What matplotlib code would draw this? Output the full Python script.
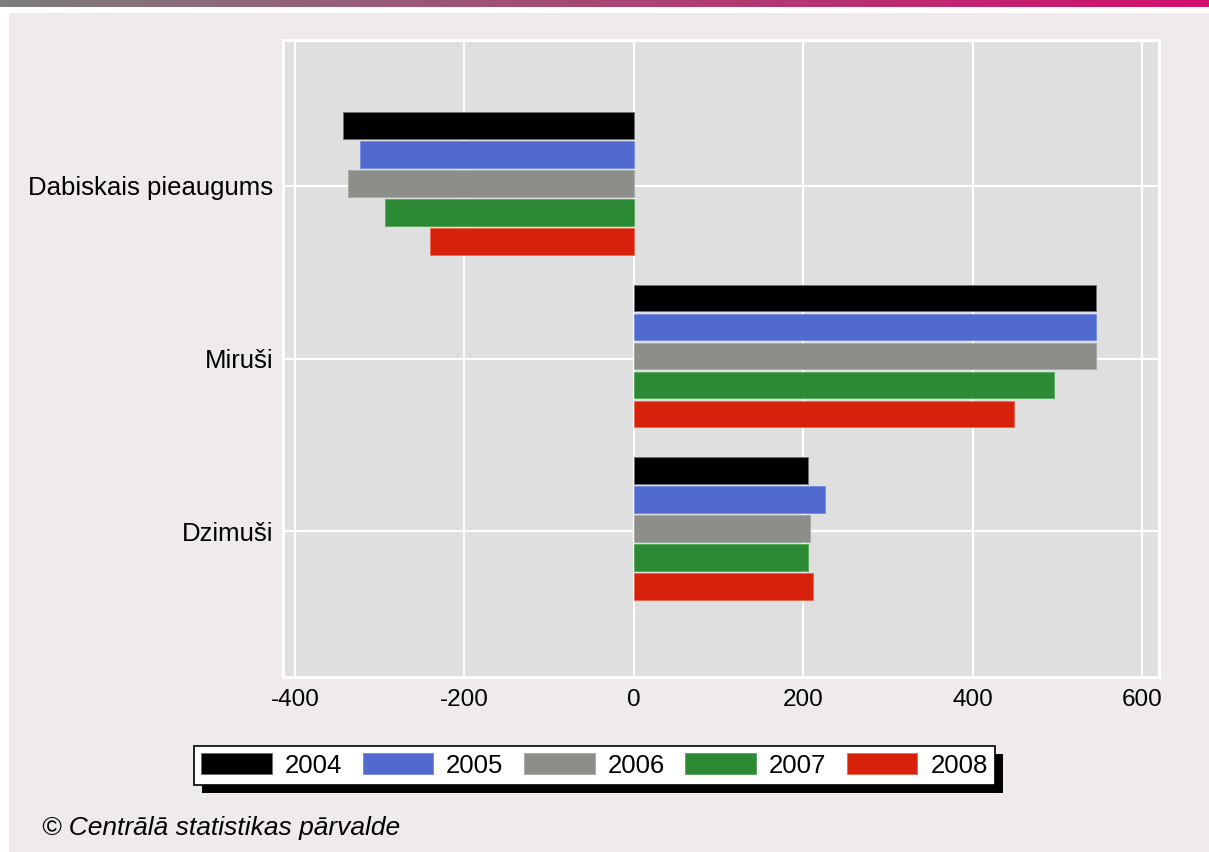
# horizontal grouped bars: natural growth, deaths and births per year
import matplotlib.pyplot as plt
from matplotlib.patches import Rectangle
import numpy as np

categories = ["Dzimuši", "Miruši", "Dabiskais pieaugums"]
years = ["2004", "2005", "2006", "2007", "2008"]

dzimusi = [205, 225, 208, 205, 211]
mirusi = [545, 545, 545, 496, 448]
pieaugums = [-343, -323, -337, -294, -240]

colors = ["#000000", "#506ad0", "#8c8e8a", "#2b8a33", "#d8210a"]
edges = ["#707070", "#7a8ee0", "#a8aaa6", "#5aa860", "#e86a55"]
xticks = [-400, -200, 0, 200, 400, 600]

plt.rcParams['font.family'] = ['Liberation Sans', 'DejaVu Sans']

fig = plt.figure(figsize=(12.09, 8.52), dpi=100)
fig.patch.set_facecolor("white")

# grey panel behind everything
fig.patches.append(Rectangle((9 / 1209, 0), 1, 1 - 13 / 852, transform=fig.transFigure,
                             facecolor="#efeaee", edgecolor="none", zorder=-10))

# gradient strip on top
top = fig.add_axes([0, 1 - 7 / 852, 1, 7 / 852])
grad = np.linspace(0, 1, 256)
c0 = np.array([0x7d, 0x7d, 0x7d]) / 255
c1 = np.array([0xd2, 0x10, 0x6c]) / 255
img = c0[None, :] + (c1 - c0)[None, :] * grad[:, None]
top.imshow(img[None, :, :], aspect="auto")
top.axis("off")

ax = fig.add_axes([283 / 1209, 1 - 677 / 852, 876 / 1209, 637 / 852])
ax.set_facecolor("#dfdfdf")

values = np.array([dzimusi, mirusi, pieaugums])  # rows follow categories
ypos = np.arange(len(categories))
step = 0.168
height = 0.154
for i, year in enumerate(years):
    ax.barh(ypos + 0.014 + (2 - i) * step, values[:, i], height=height,
            color=colors[i], edgecolor=edges[i], linewidth=0.7,
            label=year, zorder=3)

ax.set_xlim(-414, 619.6)
ax.set_ylim(-0.846, 2.846)
ax.set_xticks(xticks)
ax.set_xticklabels([str(t) for t in xticks])
ax.set_yticks(ypos)
ax.set_yticklabels(categories)
ax.tick_params(length=0, labelsize=18.5)
ax.tick_params(axis="x", labelsize=17.5, pad=9)
ax.tick_params(axis="y", pad=7)
ax.grid(True, color="white", linewidth=1.5, zorder=1)
for s in ax.spines.values():
    s.set_color("white")
    s.set_linewidth(2.2)

leg = fig.legend(loc="center", bbox_to_anchor=(0.4917, 0.1015), ncol=5,
                 fontsize=18.5, handlelength=2.75, handleheight=0.85,
                 handletextpad=0.5, columnspacing=0.8, borderpad=0.3,
                 fancybox=False, frameon=True, framealpha=1)
leg.get_frame().set_edgecolor("black")
leg.get_frame().set_linewidth(1.2)
leg.get_frame().set_facecolor("white")
leg.set_zorder(5)

fig.canvas.draw()
bb = leg.get_window_extent()
W, H = fig.bbox.width, fig.bbox.height
fig.patches.append(Rectangle(((bb.x0 + 8) / W, (bb.y0 - 8) / H), bb.width / W, bb.height / H,
                             transform=fig.transFigure, facecolor="black",
                             edgecolor="none", zorder=4))

fig.text(42 / 1209, 0.028, "© Centrālā statistikas pārvalde", fontsize=19,
         style="italic", va="center", ha="left")

fig.savefig("out.png", dpi=100)
